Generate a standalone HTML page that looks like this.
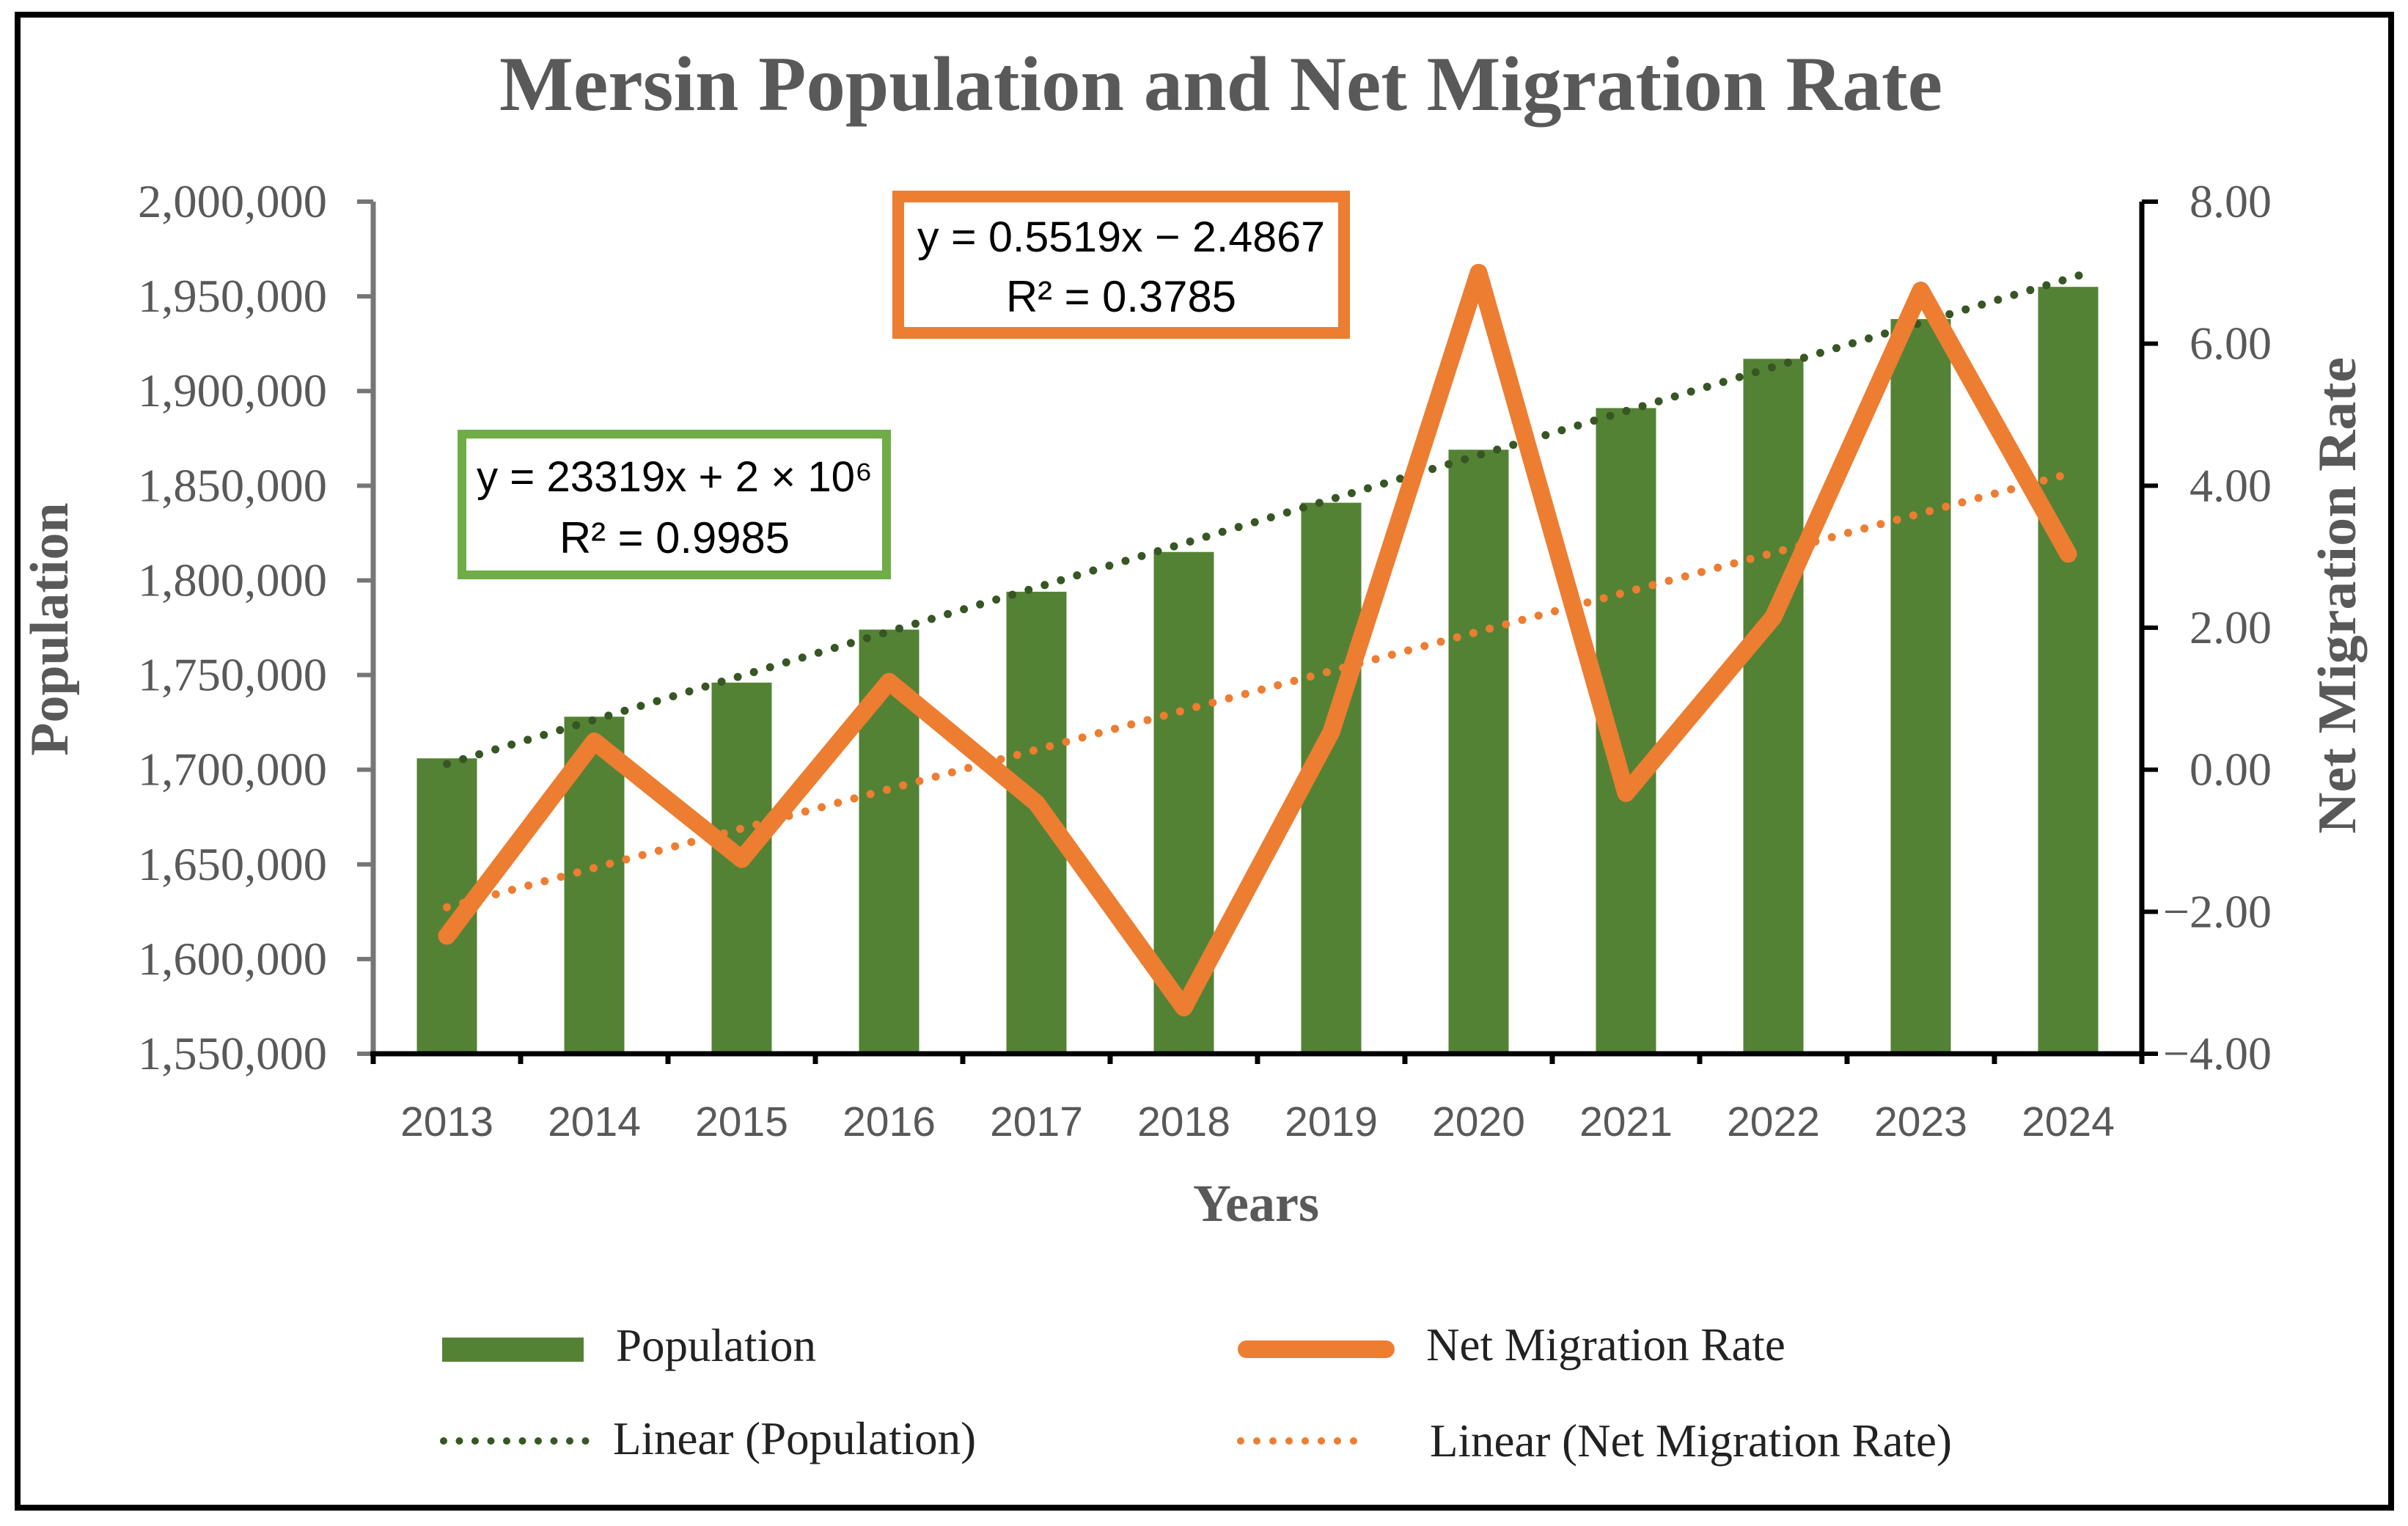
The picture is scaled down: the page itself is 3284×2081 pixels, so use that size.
<!DOCTYPE html>
<html><head><meta charset="utf-8"><style>
html,body{margin:0;padding:0;background:#fff;}
svg{display:block;}
</style></head><body>
<svg id="chart" width="3284" height="2081" viewBox="0 0 3284 2081" xmlns="http://www.w3.org/2000/svg">
<rect x="24" y="20" width="3237" height="2036" fill="#fff" stroke="#000" stroke-width="8"/>
<text x="1665" y="150" text-anchor="middle" font-family="Liberation Serif, serif" font-weight="bold" font-size="106" fill="#595959" textLength="1968" lengthAdjust="spacingAndGlyphs">Mersin Population and Net Migration Rate</text>
<g id="grid"></g>
<text transform="translate(92,858) rotate(-90)" text-anchor="middle" font-family="Liberation Serif, serif" font-weight="bold" font-size="74" fill="#595959">Population</text>
<text transform="translate(3212,812) rotate(-90)" text-anchor="middle" font-family="Liberation Serif, serif" font-weight="bold" font-size="74" fill="#595959" textLength="650" lengthAdjust="spacingAndGlyphs">Net Migration Rate</text>
<text x="1713" y="1665" text-anchor="middle" font-family="Liberation Serif, serif" font-weight="bold" font-size="72" fill="#595959">Years</text>
<g>
<rect x="1225" y="268" width="608" height="186" fill="#fff" stroke="#ED7D31" stroke-width="16"/>
<text x="1529" y="343" text-anchor="middle" font-family="Liberation Sans, sans-serif" font-size="58" fill="#000" textLength="556" lengthAdjust="spacingAndGlyphs">y = 0.5519x − 2.4867</text>
<text x="1529" y="425" text-anchor="middle" font-family="Liberation Sans, sans-serif" font-size="60" fill="#000" textLength="314" lengthAdjust="spacingAndGlyphs">R² = 0.3785</text>
</g>
<g>
<rect x="630" y="592" width="579" height="192" fill="#fff" stroke="#70AD47" stroke-width="12"/>
<text x="920" y="670" text-anchor="middle" font-family="Liberation Sans, sans-serif" font-size="58" fill="#000" textLength="540" lengthAdjust="spacingAndGlyphs">y = 23319x + 2 × 10⁶</text>
<text x="920" y="754" text-anchor="middle" font-family="Liberation Sans, sans-serif" font-size="60" fill="#000" textLength="314" lengthAdjust="spacingAndGlyphs">R² = 0.9985</text>
</g>
<g font-family="Liberation Serif, serif" font-size="63" fill="#222">
<rect x="603" y="1824" width="193" height="33" fill="#548235"/>
<text x="840" y="1856">Population</text>
<line x1="1700" y1="1840" x2="1890" y2="1840" stroke="#ED7D31" stroke-width="24" stroke-linecap="round"/>
<text x="1945" y="1855">Net Migration Rate</text>
<line x1="605" y1="1965" x2="800" y2="1965" stroke="#375623" stroke-width="10" stroke-dasharray="0 21.5" stroke-linecap="round"/>
<text x="836" y="1983">Linear (Population)</text>
<line x1="1692" y1="1965" x2="1868" y2="1965" stroke="#ED7D31" stroke-width="10" stroke-dasharray="0 22" stroke-linecap="round"/>
<text x="1950" y="1986">Linear (Net Migration Rate)</text>
</g>
</svg>
<script>
const years = ['2013','2014','2015','2016','2017','2018','2019','2020','2021','2022','2023','2024'];
const population = [1706000,1728000,1746000,1774000,1794000,1815000,1841000,1869000,1891000,1917000,1938000,1955000];
const migration = [-2.34,0.40,-1.26,1.24,-0.47,-3.35,0.53,7.0,-0.33,2.15,6.75,3.04];
const leftTicks = [1550000,1600000,1650000,1700000,1750000,1800000,1850000,1900000,1950000,2000000];
const rightTicks = [-4,-2,0,2,4,6,8];

const NS = 'http://www.w3.org/2000/svg';
const g = document.getElementById('grid');
const X0 = 509, X1 = 2921, Y0 = 1437, Y1 = 275;
const band = (X1 - X0) / years.length;
const xc = i => X0 + band * (i + 0.5);
const yL = v => Y0 - (v - 1550000) / 450000 * (Y0 - Y1);
const yR = v => Y0 - (v + 4) / 12 * (Y0 - Y1);
function mk(tag, attrs, parent) {
  const e = document.createElementNS(NS, tag);
  for (const k in attrs) e.setAttribute(k, attrs[k]);
  (parent || g).appendChild(e);
  return e;
}
population.forEach((v, i) => {
  const r = mk('rect', {x: xc(i) - 41, y: yL(v), width: 82, height: Y0 - yL(v), fill: '#548235'});
  
  
});
function fit(arr) {
  const n = arr.length; let sx = 0, sy = 0, sxx = 0, sxy = 0;
  arr.forEach((v, i) => { const x = i + 1; sx += x; sy += v; sxx += x * x; sxy += x * v; });
  const m = (n * sxy - sx * sy) / (n * sxx - sx * sx);
  return [m, (sy - m * sx) / n];
}
const fp = fit(population), fm = fit(migration);
const n = years.length;
const tp = mk('line', {x1: xc(0), y1: yL(fp[1] + fp[0]), x2: xc(n - 1) + 20, y2: yL(fp[1] + fp[0] * (n + 0.1)), stroke: '#375623', 'stroke-width': 11, 'stroke-dasharray': '0 23', 'stroke-linecap': 'round'});


const tm = mk('line', {x1: xc(0), y1: yR(fm[1] + fm[0]), x2: xc(n - 1), y2: yR(fm[1] + fm[0] * n), stroke: '#ED7D31', 'stroke-width': 11, 'stroke-dasharray': '0 23', 'stroke-linecap': 'round'});


const pl = mk('polyline', {points: migration.map((v, i) => xc(i) + ',' + yR(v)).join(' '), fill: 'none', stroke: '#ED7D31', 'stroke-width': 24, 'stroke-linejoin': 'round', 'stroke-linecap': 'round'});


const la = mk('line', {x1: X0, y1: Y1, x2: X0, y2: Y0, stroke: '#767676', 'stroke-width': 7});


leftTicks.forEach(v => {
  const t = mk('line', {x1: X0 - 22, y1: yL(v), x2: X0, y2: yL(v), stroke: '#767676', 'stroke-width': 6});
  
  
  const l = mk('text', {x: 446, y: yL(v) + 21, 'text-anchor': 'end', 'font-family': 'Liberation Serif, serif', 'font-size': 64, fill: '#595959', textLength: 258, lengthAdjust: 'spacingAndGlyphs'});
  l.textContent = v.toLocaleString('en-US');
  
  
});
const ra = mk('line', {x1: X1, y1: Y1, x2: X1, y2: Y0 + 12, stroke: '#000', 'stroke-width': 7});


rightTicks.forEach(v => {
  const t = mk('line', {x1: X1, y1: yR(v), x2: X1 + 22, y2: yR(v), stroke: '#000', 'stroke-width': 6});
  
  
  const l = mk('text', {x: 3098, y: yR(v) + 21, 'text-anchor': 'end', 'font-family': 'Liberation Serif, serif', 'font-size': 64, fill: '#595959'});
  l.textContent = (v < 0 ? '\u2212' : '') + Math.abs(v).toFixed(2);
  
  
});
const xa = mk('line', {x1: X0 - 4, y1: Y0, x2: X1, y2: Y0, stroke: '#000', 'stroke-width': 7});


for (let i = 0; i <= n; i++) {
  const t = mk('line', {x1: X0 + band * i, y1: Y0, x2: X0 + band * i, y2: Y0 + 14, stroke: '#000', 'stroke-width': 7});
  
  
}
years.forEach((y, i) => {
  const l = mk('text', {x: xc(i), y: 1549, 'text-anchor': 'middle', 'font-family': 'Liberation Sans, sans-serif', 'font-size': 57, fill: '#595959'});
  l.textContent = y;
  
  
});
</script>
</body></html>
